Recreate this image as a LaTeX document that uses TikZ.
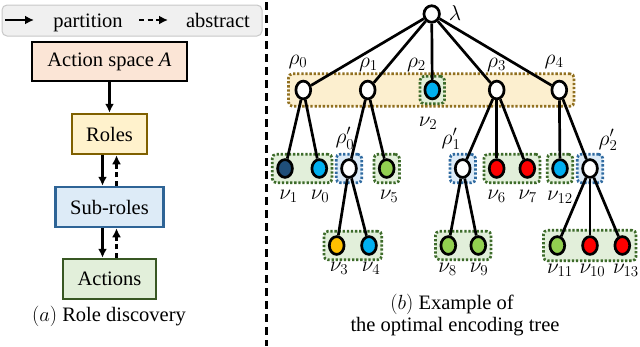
\documentclass[tikz,border=0pt]{standalone}
\usepackage{fix-cm}
\usepackage{fontspec}
\setmainfont{Liberation Serif}
\usetikzlibrary{shapes.geometric,arrows.meta,fit}
\pgfdeclarelayer{bg}
\pgfsetlayers{bg,main}
\definecolor{cnavy}{HTML}{1F4E79}
\definecolor{cblue}{HTML}{00B0F0}
\definecolor{cgreen}{HTML}{92D050}
\definecolor{cred}{HTML}{FF0000}
\definecolor{corange}{HTML}{FFC000}
\definecolor{gfill}{HTML}{E2EFDA}
\definecolor{gdraw}{HTML}{3D6B2A}
\definecolor{bfill}{HTML}{DDEBF7}
\definecolor{bdraw}{HTML}{2F6AA0}
\definecolor{yfill}{HTML}{FCEFCF}
\definecolor{ydraw}{HTML}{917020}
\definecolor{peach}{HTML}{FBE5D6}
\definecolor{rolefill}{HTML}{FFF2CC}
\definecolor{roledraw}{HTML}{7F6000}
\definecolor{subdraw}{HTML}{2E6496}
\definecolor{actdraw}{HTML}{385723}
\definecolor{legfill}{HTML}{F0F0F0}
\definecolor{legdraw}{HTML}{C8C8C8}
\begin{document}
\begin{tikzpicture}[x=1pt,y=-1pt,font=\fontsize{20.5}{24}\selectfont,
  tn/.style={ellipse,draw=black,line width=2.7pt,fill=white,minimum width=14.8pt,minimum height=17.8pt,inner sep=0pt},
  lab/.style={anchor=base,inner sep=0pt,font=\fontsize{21.5}{24}\selectfont},
  edge/.style={line width=2.7pt,black},
  dotbox/.style={rectangle,rounded corners=4pt,line width=2.7pt,dash pattern=on 2.3pt off 1.8pt,inner sep=4pt},
  gbox/.style={dotbox,draw=gdraw,fill=gfill},
  bbox/.style={dotbox,draw=bdraw,fill=bfill},
  ybox/.style={dotbox,draw=ydraw,fill=yfill,inner sep=6pt},
  lbox/.style={rectangle,line width=2.5pt,inner sep=0pt},
  arr/.style={line width=2.6pt,-{Latex[length=9pt,width=9pt]}},
  darr/.style={arr,dash pattern=on 5pt off 3.5pt}]
\useasboundingbox (0,0) rectangle (640,346);

% ---------- left part ----------
\node[rectangle,rounded corners=5pt,draw=legdraw,fill=legfill,line width=1pt,minimum width=260pt,minimum height=31pt] (leg) at (132,20.5) {};
\coordinate (la1) at (5,20);
\coordinate (la2) at (34,20);
\coordinate (lb1) at (139,20);
\coordinate (lb2) at (168,20);
\draw[arr] (la1) -- (la2);
\draw[darr] (lb1) -- (lb2);
\node[lab,font=\fontsize{20.5}{24}\selectfont] (tpart) at (88,27) {partition};
\node[lab,font=\fontsize{20.5}{24}\selectfont] (tabs) at (218,27) {abstract};

\node[lbox,draw=black,fill=peach,line width=2.8pt,minimum width=155pt,minimum height=39pt] (A) at (109.5,61.5) {Action space \textit{A}};
\node[lbox,draw=roledraw,fill=rolefill,minimum width=75pt,minimum height=40pt] (R) at (109.5,134) {Roles};
\node[lbox,draw=subdraw,fill=bfill,minimum width=108pt,minimum height=40pt] (S) at (109.5,207) {Sub-roles};
\node[lbox,draw=actdraw,fill=gfill,minimum width=93pt,minimum height=40pt] (C) at (109.5,279) {Actions};

\draw[arr] (A) -- (R);
\draw[arr] ([xshift=-7pt]R.south) -- ([xshift=-7pt]R.south |- S.north);
\draw[darr] ([xshift=7pt]S.north) -- ([xshift=7pt]S.north |- R.south);
\draw[arr] ([xshift=-7pt]S.south) -- ([xshift=-7pt]S.south |- C.north);
\draw[darr] ([xshift=7pt]C.north) -- ([xshift=7pt]C.north |- S.south);

\node[lab,font=\fontsize{20.5}{24}\selectfont] (capa) at (109,321.5) {$(a)$ Role discovery};

% divider
\coordinate (d1) at (266.7,2);
\coordinate (d2) at (266.7,346);
\draw[line width=3pt,dash pattern=on 8pt off 5pt] (d1) -- (d2);

% ---------- tree ----------
\node[tn,minimum width=15.5pt,minimum height=16.5pt] (lam) at (431.7,14) {};
\node[tn] (r0) at (303.3,90) {};
\node[tn] (r1) at (367.7,90) {};
\node[tn,fill=cblue] (r2) at (432.3,90) {};
\node[tn] (r3) at (496.7,90) {};
\node[tn] (r4) at (559.3,90) {};

\node[tn,fill=cnavy] (n1) at (285,168.5) {};
\node[tn,fill=cblue] (n0) at (319.3,168.5) {};
\node[tn] (rp0) at (349,168.5) {};
\node[tn,fill=cgreen] (n5) at (386.7,168.5) {};
\node[tn] (rp1) at (462.7,168.5) {};
\node[tn,fill=cred] (n6) at (496.7,168.5) {};
\node[tn,fill=cred] (n7) at (527.3,168.5) {};
\node[tn,fill=cblue] (n12) at (560,168.5) {};
\node[tn] (rp2) at (590,168.5) {};

\node[tn,fill=corange] (n3) at (336.7,245.5) {};
\node[tn,fill=cblue] (n4) at (369,245.5) {};
\node[tn,fill=cgreen] (n8) at (448.3,245.5) {};
\node[tn,fill=cgreen] (n9) at (478.3,245.5) {};
\node[tn,fill=cgreen] (n11) at (557.3,245.5) {};
\node[tn,fill=cred] (n10) at (590,245.5) {};
\node[tn,fill=cred] (n13) at (622.3,245.5) {};

\begin{pgfonlayer}{bg}
\node[ybox,fit=(r0)(r4)] (yb) {};
\node[gbox,inner sep=3.5pt,fit=(r2)] (gb2) {};
\node[gbox,fit=(n1)(n0)] (gb10) {};
\node[bbox,fit=(rp0)] (bb0) {};
\node[gbox,fit=(n5)] (gb5) {};
\node[bbox,fit=(rp1)] (bb1) {};
\node[gbox,fit=(n6)(n7)] (gb67) {};
\node[gbox,fit=(n12)] (gb12) {};
\node[bbox,fit=(rp2)] (bb2) {};
\node[gbox,fit=(n3)(n4)] (gb34) {};
\node[gbox,fit=(n8)(n9)] (gb89) {};
\node[gbox,inner sep=5pt,fit=(n11)(n10)(n13)] (gb1113) {};
\end{pgfonlayer}

\foreach \c in {r0,r1,r2,r3,r4} \draw[edge] (lam) -- (\c);
\draw[edge] (r0) -- (n1);
\draw[edge] (r0) -- (n0);
\draw[edge] (r1) -- (rp0);
\draw[edge] (r1) -- (n5);
\draw[edge] (rp0) -- (n3);
\draw[edge] (rp0) -- (n4);
\draw[edge] (r3) -- (rp1);
\draw[edge] (r3) -- (n6);
\draw[edge] (r3) -- (n7);
\draw[edge] (rp1) -- (n8);
\draw[edge] (rp1) -- (n9);
\draw[edge] (r4) -- (n12);
\draw[edge] (r4) -- (rp2);
\draw[edge] (rp2) -- (n11);
\draw[edge] (rp2) -- (n10);
\draw[edge] (rp2) -- (n13);

% labels
\node[lab] (llam) at (455,20) {$\lambda$};
\node[lab] (lr0) at (298,64) {$\rho_0$};
\node[lab] (lr1) at (368.5,67) {$\rho_1$};
\node[lab] (lr2) at (416.5,67) {$\rho_2$};
\node[lab] (lr3) at (496.5,67) {$\rho_3$};
\node[lab] (lr4) at (554,64) {$\rho_4$};
\node[lab] (ln2) at (428,126.5) {$\nu_2$};
\node[lab] (lrp0) at (345,143.7) {$\rho'_0$};
\node[lab] (lrp1) at (451,144) {$\rho'_1$};
\node[lab] (lrp2) at (608,145) {$\rho'_2$};
\node[lab] (ln1) at (288.5,199) {$\nu_1$};
\node[lab] (ln0) at (320,199) {$\nu_0$};
\node[lab] (ln5) at (389,199) {$\nu_5$};
\node[lab] (ln6) at (496.5,199) {$\nu_6$};
\node[lab] (ln7) at (527.5,199) {$\nu_7$};
\node[lab] (ln12) at (560,200) {$\nu_{12}$};
\node[lab] (ln3) at (339,271) {$\nu_3$};
\node[lab] (ln4) at (371,271) {$\nu_4$};
\node[lab] (ln8) at (447.5,272) {$\nu_8$};
\node[lab] (ln9) at (479,272) {$\nu_9$};
\node[lab] (ln11) at (560,273) {$\nu_{11}$};
\node[lab] (ln10) at (592.5,273) {$\nu_{10}$};
\node[lab] (ln13) at (626,273) {$\nu_{13}$};

\node[lab,font=\fontsize{20.5}{24}\selectfont] (capb1) at (452,309) {$(b)$ Example of};
\node[lab,font=\fontsize{20.5}{24}\selectfont] (capb2) at (455,331) {the optimal encoding tree};
\end{tikzpicture}
\end{document}
